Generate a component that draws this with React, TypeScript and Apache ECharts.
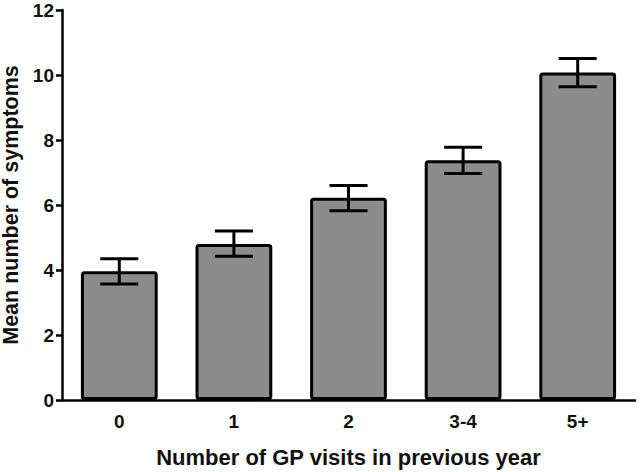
import React, { useEffect, useRef } from "react";
import * as echarts from "echarts";

const categories = ["0", "1", "2", "3-4", "5+"];
const means = [3.96, 4.8, 6.22, 7.38, 10.08];
const lowerErr = [3.57, 4.42, 5.82, 6.97, 9.64];
const upperErr = [4.35, 5.2, 6.6, 7.78, 10.51];

export default function App() {
  const ref = useRef<HTMLDivElement>(null);
  useEffect(() => {
    if (!ref.current) return;
    const chart = echarts.init(ref.current, null, { renderer: "svg" });
    const font = "'Liberation Sans', Arial, sans-serif";
    chart.setOption({
      animation: false,
      grid: { left: 62, right: 5, top: 10, bottom: 72, containLabel: false, outerBoundsMode: "none" },
      xAxis: {
        type: "category",
        data: categories,
        name: "Number of GP visits in previous year",
        nameLocation: "middle",
        nameGap: 46,
        nameTextStyle: { fontFamily: font, fontWeight: "bold", fontSize: 22, color: "#111" },
        axisLine: { lineStyle: { color: "#000", width: 2.5 } },
        axisTick: { alignWithLabel: true, length: 7, lineStyle: { color: "#000", width: 2.5 } },
        axisLabel: { fontFamily: font, fontWeight: "bold", fontSize: 19, color: "#111", margin: 12 },
      },
      yAxis: {
        type: "value",
        min: 0,
        max: 12,
        interval: 2,
        name: "Mean number of symptoms",
        nameLocation: "middle",
        nameGap: 34,
        nameTextStyle: { fontFamily: font, fontWeight: "bold", fontSize: 21.5, lineHeight: 22, color: "#111" },
        axisLine: { show: true, lineStyle: { color: "#000", width: 2.5 } },
        axisTick: { show: true, length: 6, lineStyle: { color: "#000", width: 2.5 } },
        axisLabel: { fontFamily: font, fontWeight: "bold", fontSize: 19, color: "#111", margin: 8 },
        splitLine: { show: false },
      },
      series: [
        {
          type: "bar",
          data: means,
          barWidth: "67%",
          itemStyle: { color: "#8c8c8c", borderColor: "#000", borderWidth: 3, borderRadius: 2 },
          z: 2,
        },
        {
          type: "custom",
          z: 3,
          data: categories.map((_, i) => [i, lowerErr[i], upperErr[i]]),
          renderItem: (params: any, api: any) => {
            const x = api.value(0);
            const lo = api.coord([x, api.value(1)]);
            const hi = api.coord([x, api.value(2)]);
            const half = 19;
            const style = { stroke: "#000", lineWidth: 3 };
            return {
              type: "group",
              children: [
                { type: "line", shape: { x1: hi[0], y1: hi[1], x2: lo[0], y2: lo[1] }, style },
                { type: "line", shape: { x1: hi[0] - half, y1: hi[1], x2: hi[0] + half, y2: hi[1] }, style },
                { type: "line", shape: { x1: lo[0] - half, y1: lo[1], x2: lo[0] + half, y2: lo[1] }, style },
              ],
            };
          },
        },
      ],
    });
    return () => chart.dispose();
  }, []);
  return <div ref={ref} style={{ width: 640, height: 472, position: "absolute", left: 0, top: 0 }} />;
}
